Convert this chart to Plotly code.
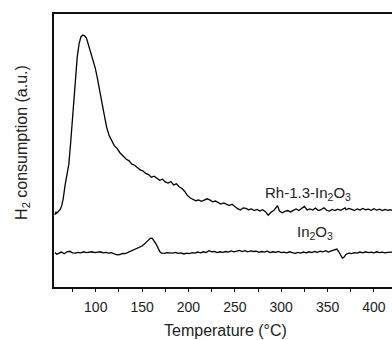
import plotly.graph_objects as go

# Rh-1.3-In2O3 TPR trace (temperature in °C, H2 consumption in a.u.)
rh_temp = [56, 57, 58, 60, 62, 63.5, 65, 67, 69, 71, 73, 74.5, 76, 78, 80, 82, 84, 86, 88, 90,
           91.5, 93, 95, 97, 99.5, 101.5, 103, 105, 107, 108.5, 110, 112, 114.5, 117.5, 120, 123,
           126.5, 130, 133, 136, 139, 142, 145, 148, 151, 154, 157, 160, 163, 166, 169, 172, 175,
           178, 181, 184, 187, 190, 193, 196, 199, 202, 205, 208, 211, 214, 217, 220, 223, 226,
           229, 232, 235, 238, 241, 244, 247, 250, 253, 256, 259, 262, 265, 268, 271, 274, 277,
           280, 283, 286, 289, 292, 296, 298, 301, 304, 307, 310, 313, 316, 319, 322, 325, 328,
           331, 334, 337, 340, 343, 346, 349, 352, 355, 358, 361, 364, 369, 370, 373, 376, 379,
           382, 385, 388, 391, 394, 397, 400, 403, 406, 409, 412, 415, 418, 420]
rh_h2 = [26.4, 27.5, 27.0, 28.0, 28.6, 30.0, 32.5, 37.4, 41.0, 45.0, 53.0, 60.0, 68.5, 77.7, 84.0,
         89.0, 91.6, 92.3, 92.0, 91.2, 89.5, 88.3, 85.5, 83.5, 80.2, 77.0, 74.5, 71.5, 67.0, 64.2,
         61.0, 58.2, 55.5, 53.2, 51.8, 50.8, 49.0, 47.8, 46.8, 46.2, 45.0, 44.6, 43.6, 42.9, 42.5,
         41.6, 41.2, 40.2, 40.6, 39.7, 39.1, 39.5, 38.5, 38.1, 38.6, 37.4, 37.8, 36.7, 36.1, 35.0,
         33.5, 32.6, 32.0, 31.6, 31.9, 31.4, 31.8, 32.3, 31.9, 31.2, 31.5, 30.9, 30.4, 30.8, 30.2,
         29.8, 30.3, 29.4, 28.7, 28.2, 29.0, 28.8, 28.3, 28.6, 28.0, 28.4, 27.8, 28.3, 27.6, 26.3,
         27.4, 28.0, 29.8, 27.9, 27.2, 27.7, 28.0, 27.5, 28.2, 28.6, 28.0, 28.8, 29.5, 28.2, 28.6,
         28.2, 28.9, 28.0, 28.3, 29.0, 28.1, 27.8, 28.4, 28.0, 28.5, 28.1, 29.0, 28.3, 28.8, 28.4,
         28.0, 28.6, 28.2, 28.8, 28.3, 28.5, 28.1, 28.7, 28.2, 28.5, 28.0, 28.4, 28.1, 28.3, 28.0]

# In2O3 TPR trace
in_temp = [56, 58, 60, 63, 66, 69, 72, 75, 78, 81, 84, 87, 90, 93, 96, 99, 102, 105, 108, 111,
           114, 117, 120, 123, 126, 129, 132, 135, 138, 141, 144, 147, 150, 153, 156, 159, 161,
           163, 165, 167, 169, 171, 174, 177, 180, 183, 186, 189, 192, 195, 198, 201, 204, 207,
           210, 213, 216, 219, 222, 225, 228, 231, 234, 237, 240, 243, 246, 249, 252, 255, 258,
           261, 264, 267, 270, 273, 276, 279, 282, 285, 288, 291, 294, 297, 300, 303, 306, 309,
           312, 315, 318, 321, 324, 327, 330, 333, 336, 339, 342, 345, 348, 351, 354, 357, 360,
           362, 364, 366, 368, 370, 373, 376, 379, 382, 385, 388, 391, 394, 397, 400, 403, 406,
           409, 412, 415, 418, 420]
in_h2 = [12.6, 12.0, 12.3, 12.8, 12.2, 12.9, 13.1, 12.5, 12.4, 12.7, 12.5, 12.9, 12.6, 12.7, 12.9,
         12.6, 12.8, 12.9, 12.5, 12.7, 12.4, 12.6, 12.1, 11.8, 11.9, 12.3, 12.2, 12.7, 13.3, 13.6,
         14.0, 14.6, 15.0, 15.9, 16.9, 17.9, 17.8, 17.0, 15.8, 14.5, 13.0, 12.4, 12.3, 12.6, 12.5,
         12.4, 12.7, 12.3, 12.5, 12.1, 12.4, 12.2, 12.6, 12.4, 12.8, 12.5, 12.9, 12.6, 13.3, 12.9,
         13.0, 12.6, 12.9, 12.7, 13.0, 12.8, 13.2, 12.9, 13.1, 13.4, 13.0, 13.3, 12.9, 13.2, 13.0,
         13.1, 12.7, 13.0, 12.8, 13.1, 12.6, 12.9, 12.7, 13.0, 12.6, 12.8, 12.5, 12.9, 12.6, 12.3,
         12.7, 12.4, 12.8, 12.5, 12.9, 12.6, 13.0, 12.7, 13.1, 12.9, 13.3, 12.8, 13.2, 13.5, 13.9,
         13.0, 11.5, 10.6, 11.0, 12.0, 12.4, 12.2, 12.6, 12.4, 12.8, 12.5, 12.9, 12.6, 12.8, 12.5,
         12.9, 12.6, 12.8, 12.5, 12.7, 12.6, 12.8]

x_ticks = [100, 150, 200, 250, 300, 350, 400]
x_minor = [75, 125, 175, 225, 275, 325, 375]
labels = ["Rh-1.3-In<sub>2</sub>O<sub>3</sub>", "In<sub>2</sub>O<sub>3</sub>"]
label_x = [329, 336]
label_y = [34.4, 19.8]

FONT = "Liberation Sans, Arial, sans-serif"
TXT = "#222222"

fig = go.Figure()
fig.add_trace(go.Scatter(x=rh_temp, y=rh_h2, mode="lines",
                         line=dict(color="#000000", width=1.3), showlegend=False))
fig.add_trace(go.Scatter(x=in_temp, y=in_h2, mode="lines",
                         line=dict(color="#000000", width=1.3), showlegend=False))

for t, lx, ly in zip(labels, label_x, label_y):
    fig.add_annotation(x=lx, y=ly, xref="x", yref="y", text=t, showarrow=False,
                       font=dict(family=FONT, size=15, color=TXT),
                       xanchor="center", yanchor="middle")

fig.add_annotation(x=0.506, xref="paper", y=-0.161, yref="paper",
                   text="Temperature (°C)", showarrow=False,
                   font=dict(family=FONT, size=16, color=TXT),
                   xanchor="center", yanchor="middle")
fig.add_annotation(x=-0.095, xref="paper", y=0.531, yref="paper",
                   text="H<sub>2</sub> consumption (a.u.)", showarrow=False, textangle=-90,
                   font=dict(family=FONT, size=16, color=TXT),
                   xanchor="center", yanchor="middle")

fig.update_layout(
    width=392, height=340,
    margin=dict(l=54, r=0, t=14, b=53),
    paper_bgcolor="white", plot_bgcolor="white",
    font=dict(family=FONT, size=13, color=TXT),
    xaxis=dict(range=[55, 419.5], tickvals=x_ticks, ticks="outside", ticklen=3, tickwidth=1,
               tickcolor="#111111", showline=True, linecolor="#111111", linewidth=2,
               mirror=True, showgrid=False, zeroline=False, ticklabelstandoff=3,
               tickfont=dict(family=FONT, size=14, color=TXT),
               minor=dict(tickvals=x_minor, ticks="outside",
                          ticklen=3, tickcolor="#111111", showgrid=False)),
    yaxis=dict(range=[0, 100], showticklabels=False, ticks="", showline=True,
               linecolor="#111111", linewidth=2, mirror=False, showgrid=False, zeroline=False),
)
fig.write_html("out.html")
